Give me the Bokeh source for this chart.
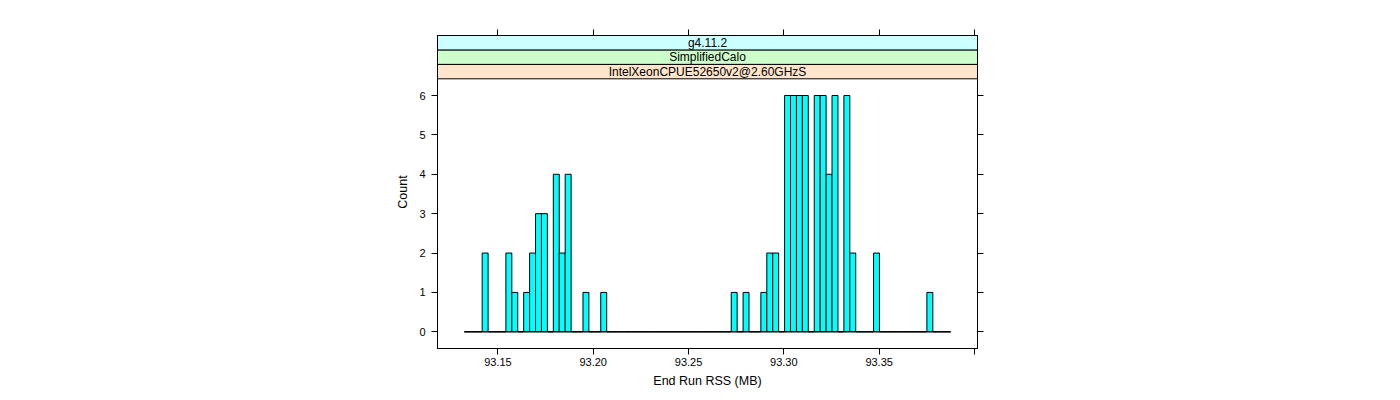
import numpy as np
from bokeh.plotting import figure
from bokeh.models import Range1d, LinearAxis, FixedTicker, CustomJSTickFormatter
from bokeh.embed import file_html
from bokeh.resources import INLINE
from bokeh.core.properties import value

# ---------------- data ----------------
bin_lo = 93.1324
bin_hi = 93.3875
n_bins = 82
counts = [
    0, 0, 0, 2, 0, 0, 0, 2, 1, 0,
    1, 2, 3, 3, 0, 4, 2, 4, 0, 0,
    1, 0, 0, 1, 0, 0, 0, 0, 0, 0,
    0, 0, 0, 0, 0, 0, 0, 0, 0, 0,
    0, 0, 0, 0, 0, 1, 0, 1, 0, 0,
    1, 2, 2, 0, 6, 6, 6, 6, 0, 6,
    6, 4, 6, 0, 6, 2, 0, 0, 0, 2,
    0, 0, 0, 0, 0, 0, 0, 0, 1, 0,
    0, 0,
]
x_ticks = [93.15, 93.20, 93.25, 93.30, 93.35, 93.40]
x_tick_labels = ["93.15", "93.20", "93.25", "93.30", "93.35", ""]
y_ticks = [0, 1, 2, 3, 4, 5, 6]
strip_labels = ["IntelXeonCPUE52650v2@2.60GHzS", "SimplifiedCalo", "g4.11.2"]
strip_colors = ["#FFE5CC", "#CCFFCC", "#CCFFFF"]
x_label = "End Run RSS (MB)"
y_label = "Count"

# ---------------- layout ----------------
FONT = "Liberation Sans"
x_lim = (93.1183, 93.4016)
y_panel = (-0.424, 6.424)
strip_h = 0.3665
y_top = y_panel[1] + strip_h * len(strip_labels)

p = figure(width=1392, height=396,
           x_range=Range1d(*x_lim), y_range=Range1d(y_panel[0], y_top),
           output_backend="svg", toolbar_location=None,
           min_border_left=437, min_border_right=415,
           min_border_top=35, min_border_bottom=48)
p.grid.visible = False
p.outline_line_color = "black"
p.background_fill_color = "white"

edges = np.linspace(bin_lo, bin_hi, n_bins + 1)
p.quad(left=edges[:-1], right=edges[1:], bottom=0, top=counts,
       fill_color="#00FFFF", line_color="black", line_width=1)
p.line(x=[edges[0], edges[-1]], y=[0, 0], line_color="black", line_width=1)

# strips
sb = [y_panel[1] + i * strip_h for i in range(len(strip_labels))]
st = [b + strip_h for b in sb]
p.quad(left=[x_lim[0]] * len(sb), right=[x_lim[1]] * len(sb), bottom=sb, top=st,
       fill_color=strip_colors, line_color="black", line_width=1)
p.text(x=[(x_lim[0] + x_lim[1]) / 2] * len(sb), y=[(b + t) / 2 for b, t in zip(sb, st)],
       text=strip_labels, text_align="center", text_baseline="middle",
       text_font=value(FONT), text_font_size="12px", text_color="black")

fmt_js = """
let best = 0;
for (let i = 0; i < tv.length; i++) {
  if (Math.abs(tv[i] - tick) < Math.abs(tv[best] - tick)) best = i;
}
return tl[best];
"""
blank = CustomJSTickFormatter(code="return '';")


def style(ax):
    ax.axis_line_color = "black"
    ax.major_tick_line_color = "black"
    ax.major_tick_in = 0
    ax.major_tick_out = 6
    ax.minor_tick_in = 0
    ax.minor_tick_out = 0
    ax.major_label_text_font = FONT
    ax.major_label_text_font_size = "11px"
    ax.major_label_text_color = "black"
    ax.axis_label_text_font = FONT
    ax.axis_label_text_font_size = "12.5px"
    ax.axis_label_text_font_style = "normal"
    ax.axis_label_text_color = "black"


xa = p.xaxis[0]
xa.ticker = FixedTicker(ticks=x_ticks)
xa.formatter = CustomJSTickFormatter(args=dict(tv=x_ticks, tl=x_tick_labels), code=fmt_js)
xa.axis_label = x_label
style(xa)
xa.major_label_standoff = 3
xa.axis_label_standoff = 5

ya = p.yaxis[0]
ya.ticker = FixedTicker(ticks=y_ticks)
ya.axis_label = y_label
style(ya)
ya.major_label_standoff = 6
ya.axis_label_standoff = 6

top = LinearAxis(ticker=FixedTicker(ticks=x_ticks), formatter=blank)
style(top)
top.major_label_standoff = 0
p.add_layout(top, "above")

right = LinearAxis(ticker=FixedTicker(ticks=y_ticks), formatter=blank)
style(right)
right.major_label_standoff = 0
p.add_layout(right, "right")

open("out.html", "w").write(file_html(p, INLINE))
